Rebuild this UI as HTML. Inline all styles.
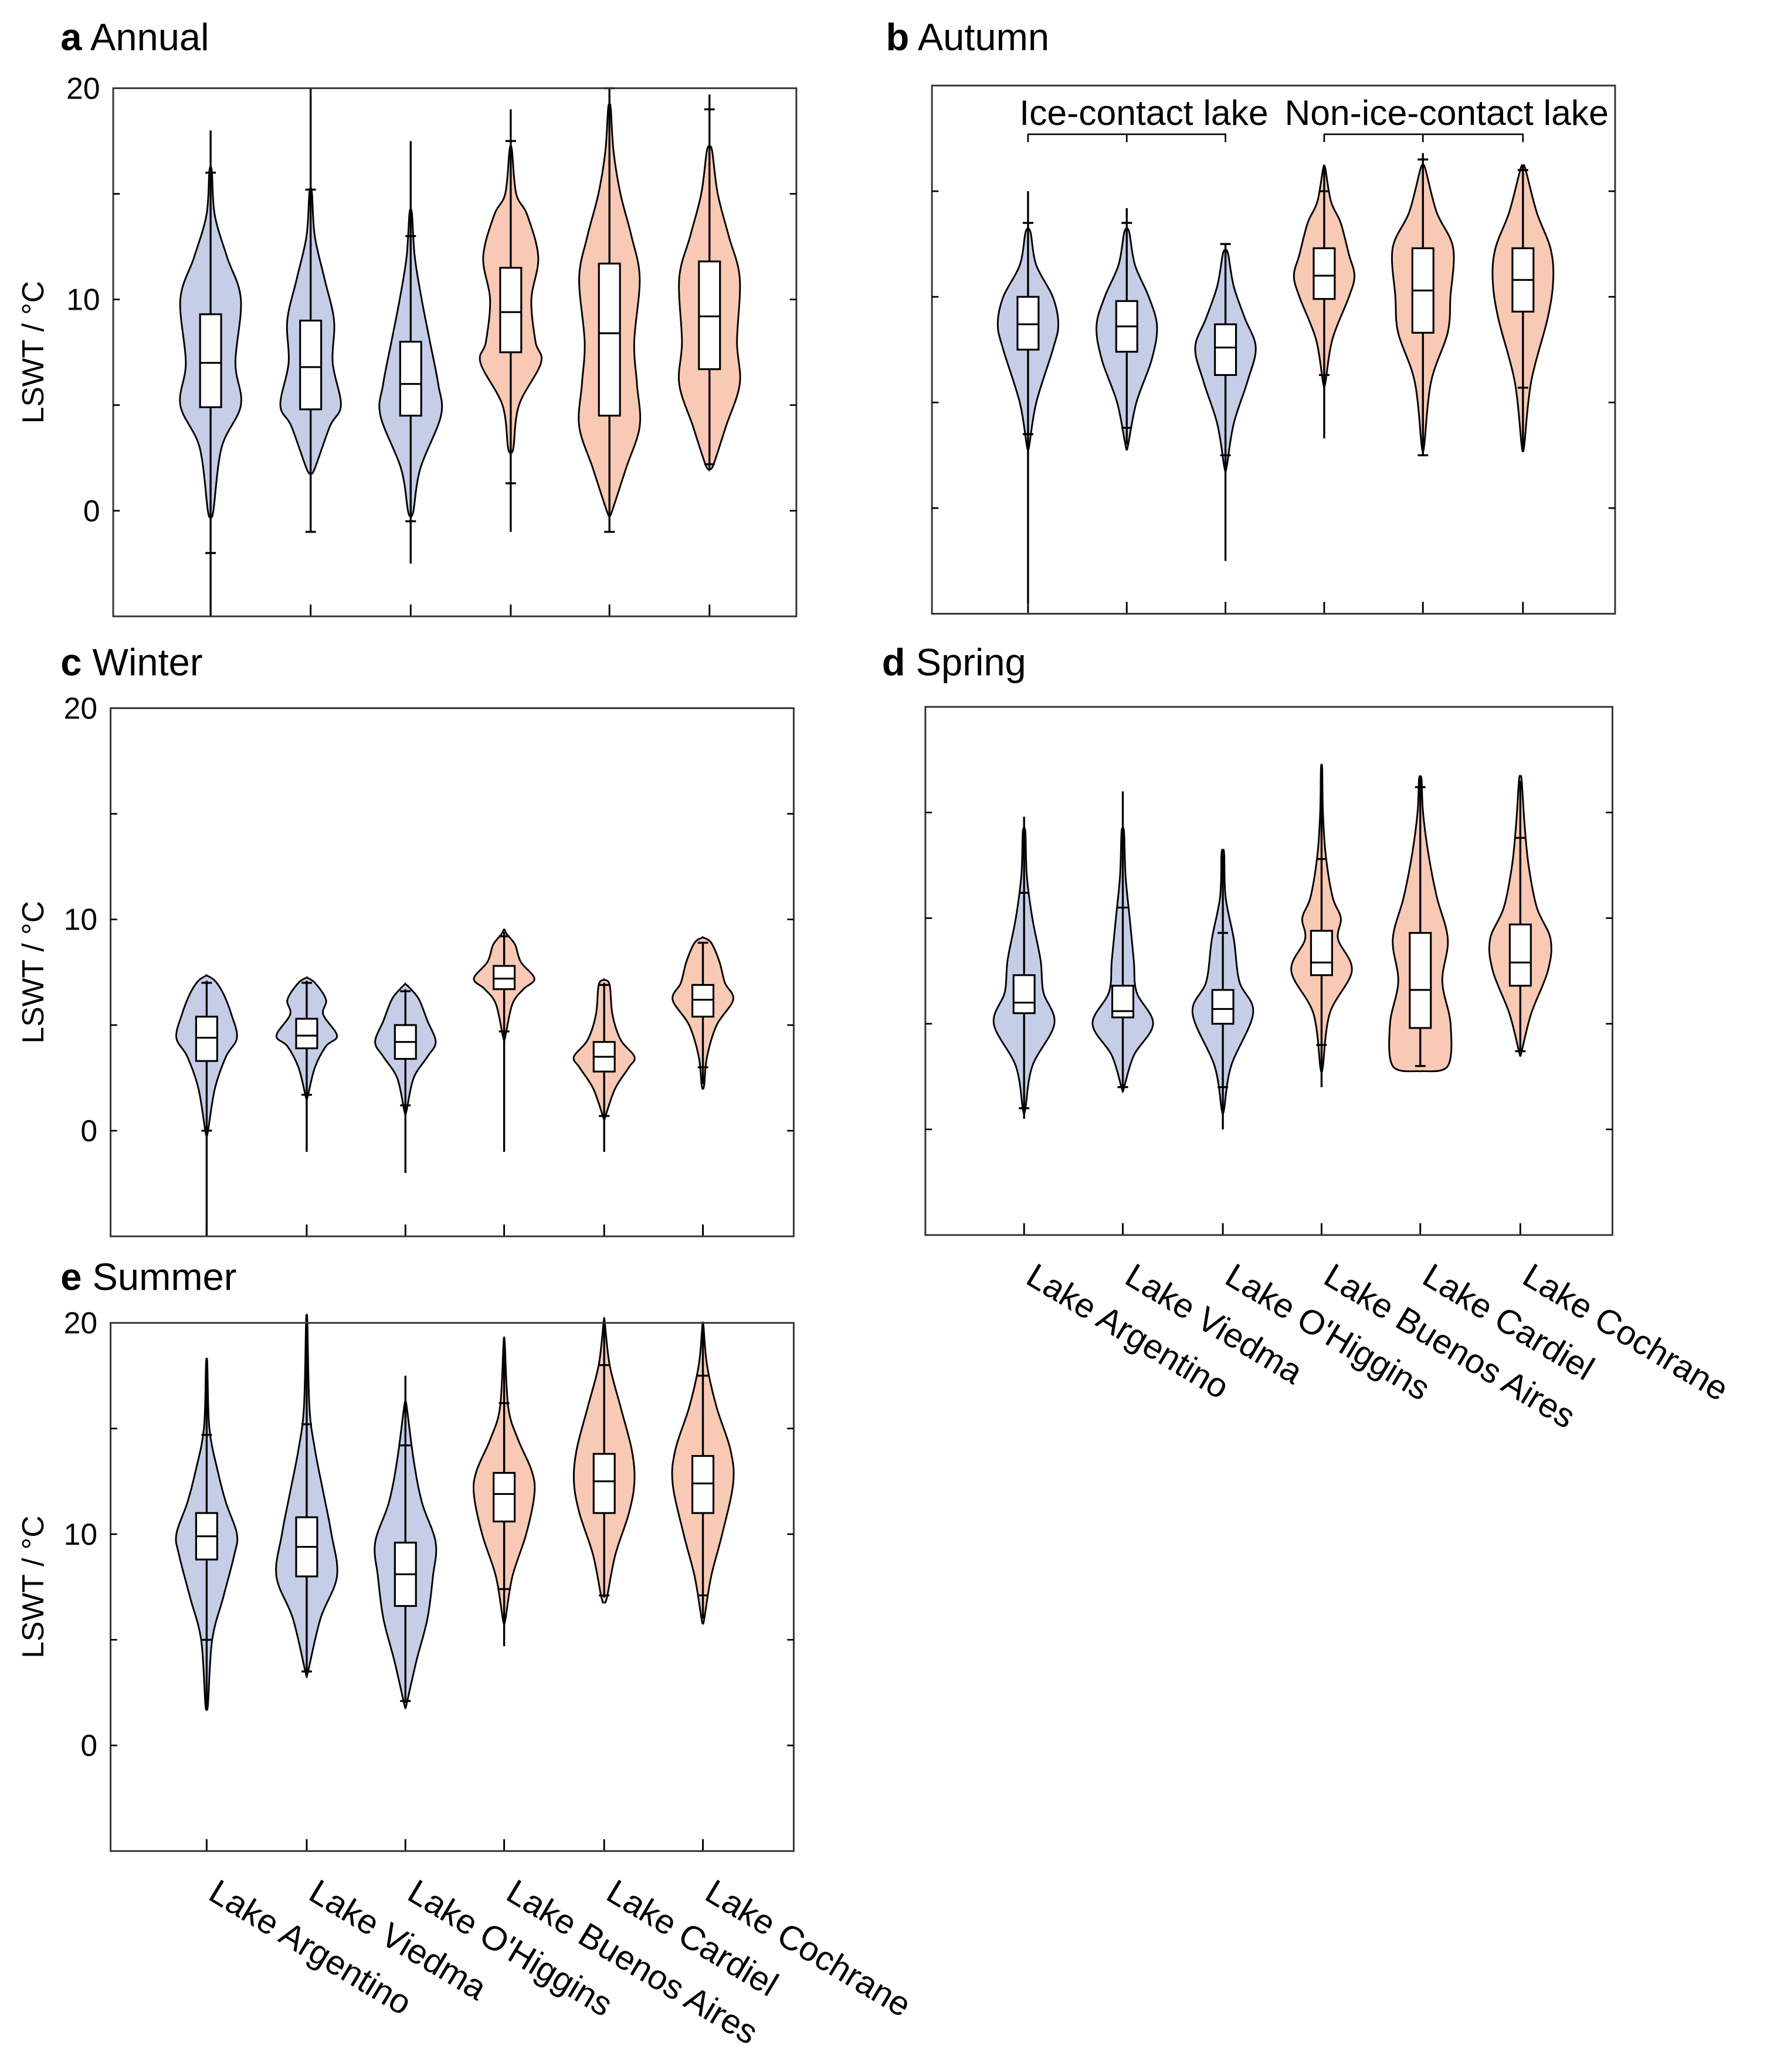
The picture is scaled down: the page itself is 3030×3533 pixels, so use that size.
<!DOCTYPE html>
<html><head><meta charset="utf-8"><style>
html,body{margin:0;padding:0;background:#fff}
svg{display:block}
text{font-family:"Liberation Sans",Arial,sans-serif;fill:#000}
</style></head><body>
<svg id="chart" xmlns="http://www.w3.org/2000/svg" width="3030" height="3533" viewBox="0 0 1350 1574.1"></svg>
<script>
const lakes = ["Lake Argentino","Lake Viedma","Lake O'Higgins","Lake Buenos Aires","Lake Cardiel","Lake Cochrane"];
const lakeGroup = ["ice","ice","ice","non","non","non"];
const yTickLabels = [20,10,0];
const yTicks = [-5,0,5,10,15,20];

// Annual
const aLine=[[-5,18],[-1,20],[-2.5,17.5],[-1,19],[-1,20],[2,19.7]];
const aCaps=[[-2,16],[-1,15.2],[-0.5,13],[1.3,17.5],[-1,20],[2.2,19]];
const aBox=[[4.9,7.0,9.3],[4.8,6.8,9.0],[4.5,6.0,8.0],[7.5,9.4,11.5],[4.5,8.4,11.7],[6.7,9.2,11.8]];
const aDens=[
 [[0,2],[3,8],[5,22],[7,18],[10,22],[12,12],[14,3],[16,1]],
 [[2,3],[4,14],[5,22],[7,16],[9,17],[11,10],[13,3],[15,1]],
 [[0,2],[2,7],[4.5,22],[6,20],[8,14],[10,8],[12,3],[14,1]],
 [[3,2],[5,6],[7,22],[8,18],[10,15],[12,20],[14,12],[15,4],[17,1]],
 [[0,2],[2,12],[4,22],[6,20],[8,18],[11,22],[13,16],[15,8],[17,3],[19,1]],
 [[2.2,3],[4,12],[6,22],[8,20],[11,22],[13,14],[15,6],[17,2]]];
// Autumn
const bLine=[[-4.5,15],[3,14.2],[-2.5,12.5],[3.3,16.2],[2.5,16.8],[2.7,16.2]];
const bCaps=[[3.5,13.5],[3.8,13.5],[2.5,12.5],[6.3,15],[2.5,16.5],[5.7,16]];
const bBox=[[7.5,8.7,10],[7.4,8.6,9.8],[6.3,7.6,8.7],[9.9,11,12.3],[8.3,10.3,12.3],[9.3,10.8,12.3]];
const bDens=[
 [[3,1],[5,6],[7.5,18],[8.7,22],[10,18],[11.5,6],[13,2]],
 [[3,1],[5,7],[7,18],[8.6,22],[10,16],[11.5,6],[13,2]],
 [[2,1],[4,6],[6,16],[7.6,22],[9,14],[10.5,6],[12,2]],
 [[6,1],[8,6],[10,18],[11,22],[12,18],[13.5,12],[14.5,5],[16,1]],
 [[3,1],[6,6],[8.3,18],[10,20],[12.3,22],[14,10],[16,2]],
 [[3,1],[6,6],[9,18],[10.8,22],[12.3,20],[14,10],[16,2]]];
// Winter
const cLine=[[-5,7.1],[-1,7.1],[-2,6.7],[-1,9.4],[-1,7],[2.2,8.9]];
const cCaps=[[0,7],[1.7,7],[1.2,6.6],[4.7,9.2],[0.7,6.9],[3,8.9]];
const cBox=[[3.3,4.4,5.4],[3.9,4.5,5.3],[3.4,4.2,5.0],[6.7,7.2,7.8],[2.8,3.5,4.2],[5.4,6.2,6.9]];
const cDens=[
 [[0,1],[2,6],[3.5,14],[4.4,22],[5.5,18],[6.5,12],[7.1,6]],
 [[1.7,1],[3,6],[4,14],[4.5,22],[5.5,12],[6.2,14],[7,6]],
 [[1,1],[2.5,6],[3.5,16],[4.2,22],[5.2,16],[6.2,10],[6.7,4]],
 [[4.5,1],[6,6],[6.7,14],[7.2,22],[8,12],[8.8,8],[9.3,2]],
 [[0.7,1],[2,8],[3,18],[3.5,22],[4.3,12],[5.5,6],[6.9,4]],
 [[2.2,1],[3.5,3],[5,10],[6.2,22],[7,16],[8,12],[8.9,6]]];
// Spring
const dLine=[[0.5,14.8],[2,16],[0,13.2],[2,17.3],[3,16.7],[3.7,16.5]];
const dCaps=[[1,11.2],[2,10.5],[2,9.3],[4,12.8],[3,16.2],[3.7,13.8]];
const dBox=[[5.5,6.0,7.3],[5.3,5.6,6.8],[5.0,5.7,6.6],[7.3,7.9,9.4],[4.8,6.6,9.3],[6.8,7.9,9.7]];
const dDens=[
 [[1,1],[3,6],[5,22],[6.5,14],[8,12],[10,6],[12,2],[14,1]],
 [[2,1],[3.5,8],[5,22],[6.5,10],[8,8],[10,5],[12,2],[14,1]],
 [[1,1],[3,6],[5.5,22],[7,12],[9,8],[11,2],[13,1]],
 [[3,1],[5.5,6],[7.5,22],[9,12],[10,14],[11,8],[13,3],[15,1],[17,0.5]],
 [[3,20],[5,22],[7,16],[9,20],[11,12],[13,6],[15,2],[16.5,1]],
 [[3.7,1],[5.5,8],[7.5,20],[9,22],[10.5,12],[12.5,6],[14.5,3],[16.5,1]]];
// Summer
const eLine=[[1.8,18],[3.3,20],[2,17.5],[4.7,19],[7,20],[6,19.8]];
const eCaps=[[5,14.7],[3.5,15.2],[2.1,14.2],[7.4,16.2],[7.1,18],[7.1,17.5]];
const eBox=[[8.8,9.9,11],[8,9.4,10.8],[6.6,8.1,9.6],[10.6,11.9,12.9],[11,12.5,13.8],[11,12.4,13.7]];
const eDens=[
 [[2,1],[5,4],[7,12],[9,20],[10,22],[11.5,14],[13,8],[15,2],[18,0.5]],
 [[3.5,1],[6,10],[8,22],[10,18],[12,12],[14,6],[16,2],[20,0.5]],
 [[2,1],[4,8],[6,16],[8,20],[9.6,22],[11.5,12],[13.5,6],[16,1]],
 [[6,1],[8,6],[10,16],[11.9,22],[13,20],[14.5,10],[16,3],[19,0.5]],
 [[7,2],[9,8],[11,18],[12.5,22],[14,20],[16,12],[18,4],[20,0.5]],
 [[6,1],[8,6],[10,14],[12.4,22],[14,20],[16,10],[18,3],[19.8,0.5]]];

const panels=[
 {id:"a",title:"Annual",x0:86,x1:605,yTop:67,xs:[160,236,312,388,463,539],labels:true,line:aLine,caps:aCaps,box:aBox,dens:aDens},
 {id:"b",title:"Autumn",x0:708,x1:1227,yTop:65,xs:[781,856,931,1006,1081,1157],labels:false,line:bLine,caps:bCaps,box:bBox,dens:bDens,bracket:true},
 {id:"c",title:"Winter",x0:84,x1:603,yTop:538,xs:[157,233,308,383,459,534],labels:true,line:cLine,caps:cCaps,box:cBox,dens:cDens},
 {id:"d",title:"Spring",x0:703,x1:1225,yTop:537,xs:[778,853,929,1004,1079,1155],labels:false,line:dLine,caps:dCaps,box:dBox,dens:dDens,xlab:true},
 {id:"e",title:"Summer",x0:84,x1:603,yTop:1005,xs:[157,233,308,383,459,534],labels:true,line:eLine,caps:eCaps,box:eBox,dens:eDens,xlab:true}
];
const titleY={a:28,b:28,c:503,d:503,e:970};
const titleX={a:46,b:673,c:46,d:670,e:46};

const NS="http://www.w3.org/2000/svg";
const svg=document.getElementById("chart");
function mk(tag,attrs,parent){const e=document.createElementNS(NS,tag);for(const k in attrs)e.setAttribute(k,attrs[k]);(parent||svg).appendChild(e);return e;}

function smoothPath(pts){
 let d="";
 for(let i=0;i<pts.length-1;i++){
  const p0=pts[Math.max(0,i-1)],p1=pts[i],p2=pts[i+1],p3=pts[Math.min(pts.length-1,i+2)];
  const c1=[p1[0]+(p2[0]-p0[0])/6,p1[1]+(p2[1]-p0[1])/6];
  const c2=[p2[0]-(p3[0]-p1[0])/6,p2[1]-(p3[1]-p1[1])/6];
  d+=` C${c1[0].toFixed(2)},${c1[1].toFixed(2)} ${c2[0].toFixed(2)},${c2[1].toFixed(2)} ${p2[0].toFixed(2)},${p2[1].toFixed(2)}`;
 }
 return d;
}

panels.forEach(p=>{
 const ppd=16.05;
 const y=v=>p.yTop+(20-v)*ppd;
 const yBot=y(-5);
 const g=mk("g",{});
 
 
 const t=mk("text",{x:titleX[p.id],y:titleY[p.id]+10,"font-size":29},g);
 
 
 const tb=mk("tspan",{"font-weight":"bold"},t);tb.textContent=p.id;
 const tn=mk("tspan",{},t);tn.textContent=" "+p.title;

 p.xs.forEach((cx,i)=>{
  const fill=lakeGroup[i]==="ice"?"#c6cde7":"#f8c9b4";
  const dens=p.dens[i];
  const mx=Math.max(...dens.map(k=>k[1]));
  const hw=23;
  const knots=[[dens[0][0]-0.25,0]].concat(dens).concat([[dens[dens.length-1][0]+0.25,0]]);
  const right=knots.map(k=>[cx+k[1]/mx*hw,y(k[0])]);
  const left=knots.slice().reverse().map(k=>[cx-k[1]/mx*hw,y(k[0])]);
  let d=`M${right[0][0]},${right[0][1]}`+smoothPath(right)+` L${left[0][0]},${left[0][1]}`+smoothPath(left)+"Z";
  const v=mk("path",{d:d,fill:fill,stroke:"#000","stroke-width":1.3},g);
  
  
  const ln=mk("line",{x1:cx,x2:cx,y1:y(p.line[i][0]),y2:y(p.line[i][1]),stroke:"#000","stroke-width":1.5},g);
  
  
  p.caps[i].forEach(cv=>{
   const c=mk("line",{x1:cx-4,x2:cx+4,y1:y(cv),y2:y(cv),stroke:"#000","stroke-width":1.5},g);
   
   
  });
  const b=p.box[i];
  const r=mk("rect",{x:cx-8,y:y(b[2]),width:16,height:y(b[0])-y(b[2]),fill:"#fff",stroke:"#000","stroke-width":1.4},g);
  
  
  const m=mk("line",{x1:cx-8,x2:cx+8,y1:y(b[1]),y2:y(b[1]),stroke:"#000","stroke-width":1.4},g);
  
  
  const bt=mk("line",{x1:cx,x2:cx,y1:yBot,y2:yBot-9,stroke:"#000","stroke-width":1.3},g);
  
  
 });

 const fr=mk("rect",{x:p.x0,y:p.yTop,width:p.x1-p.x0,height:yBot-p.yTop,fill:"none",stroke:"#333","stroke-width":1.3},g);
 
 
 yTicks.forEach(tv=>{
  if(tv===-5||tv===20)return;
  const l1=mk("line",{x1:p.x0,x2:p.x0+5,y1:y(tv),y2:y(tv),stroke:"#000","stroke-width":1.2},g);
  
  
  const l2=mk("line",{x1:p.x1,x2:p.x1-5,y1:y(tv),y2:y(tv),stroke:"#000","stroke-width":1.2},g);
  
  
 });
 if(p.labels){
  yTickLabels.forEach(tv=>{
   const tl=mk("text",{x:p.x0-10,y:y(tv)+8,"font-size":23,"text-anchor":"end"},g);
   
   
   tl.textContent=tv;
  });
  const yc=(p.yTop+yBot)/2;
  const yt=mk("text",{x:0,y:0,"font-size":23,"text-anchor":"middle",transform:`translate(33,${yc}) rotate(-90)`},g);
  
  
  yt.textContent="LSWT / \u00B0C";
 }
 if(p.bracket){
  const groups=[["Ice-contact lake",0,2,869],["Non-ice-contact lake",3,5,1099]];
  groups.forEach(gr=>{
   const xa=p.xs[gr[1]],xb=p.xs[gr[2]],xm=p.xs[gr[1]+1];
   const br=mk("path",{d:`M${xa},108 L${xa},102 L${xb},102 L${xb},108 M${xm},102 L${xm},108`,fill:"none",stroke:"#000","stroke-width":1.2},g);
   
   
   const bl=mk("text",{x:gr[3],y:95,"font-size":27,"text-anchor":"middle"},g);
   
   
   bl.textContent=gr[0];
  });
 }
 if(p.xlab){
  p.xs.forEach((cx,i)=>{
   const xl=mk("text",{x:0,y:0,"font-size":26,transform:`translate(${cx},${yBot+36}) rotate(31)`},g);
   
   
   xl.textContent=lakes[i];
  });
 }
});
</script>
</body></html>
